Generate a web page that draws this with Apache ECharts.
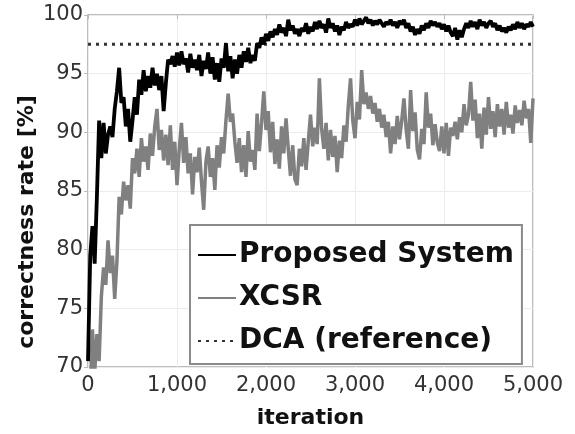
<!DOCTYPE html>
<html>
<head>
<meta charset="utf-8">
<script src="https://cdn.jsdelivr.net/npm/echarts@6/dist/echarts.min.js"></script>
<style>html,body{margin:0;padding:0;background:#fff;}#c{width:575px;height:434px;}</style>
</head>
<body>
<div id="c"></div>
<script>
// iteration step between samples
const step = 25;
const seriesNames = ['Proposed System', 'XCSR', 'DCA (reference)'];
const xTicks = [0, 1000, 2000, 3000, 4000, 5000];
const yTicks = [70, 75, 80, 85, 90, 95, 100];
const dcaValue = 97.5;

const proposed = [
70.5,79.5,82,78.8,84.5,91,87.8,90.8,88.2,89.8,
90.5,89.6,92,93.5,95.5,92.5,93,90.5,92,89.2,
91,93,91.5,94.5,93.2,95.3,93.5,94.8,93.8,95.5,
94,95,93.6,94.8,91.8,94.2,96.2,95.8,96.5,95.6,
96.8,95.7,96.9,95.8,96.3,95.1,96.7,95.5,96.2,95.3,
96.6,94.8,96.1,95.4,96.8,95,96.4,94.5,95.9,94.3,
96.3,95.5,97.6,95.2,96.5,94.6,96.2,95,96.6,95.5,
96.9,96,97.2,95.9,96.6,96.1,97.6,97.2,98.1,97.5,
98.4,97.8,98.6,98.1,98.8,98.3,99.2,98.5,98.9,98.2,
99.6,98.7,99.1,98.4,98.8,98.2,98.9,98.6,99.3,98.4,
99.0,98.6,99.4,98.8,99.5,98.9,99.2,98.5,99.7,98.9,
99.3,98.6,99.1,98.3,99.0,98.7,99.4,98.9,99.2,99.0,
99.6,99.1,99.7,99.2,99.5,99.8,99.3,99.6,99.1,99.5,
99.2,99.6,99.3,99.0,99.4,99.2,99.6,99.1,99.4,98.9,
99.5,99.2,99.6,98.9,99.3,98.6,99.0,98.3,98.8,98.4,
99.1,98.7,99.3,98.9,99.5,99.1,99.4,99.0,99.3,98.8,
99.2,98.6,99.1,98.5,98.2,98.9,97.9,98.7,98.1,98.8,
99.3,98.9,99.5,99.0,99.4,98.8,99.6,99.1,99.4,98.9,
99.3,99.5,99.0,99.3,98.7,99.1,98.6,98.9,98.5,99.0,
98.7,99.2,98.8,99.4,98.9,99.3,98.8,99.2,99.0,99.4,
99.0
];

const xcsr = [
69,68,73.2,69.5,72.8,70.5,76,78.5,77,80.8,
78,79.5,75.8,79,84.5,83,85.8,84.2,85.5,83.5,
87.8,86.5,88.6,86.2,89.5,87.5,88.8,86.8,89.9,88,
90.5,92,88.5,90.2,87.6,89.8,87.2,90.6,86.8,89.2,
85.5,88.5,90.8,87.4,89.6,86.5,88.2,84.7,87.9,86.6,
88.7,85.8,83.4,87.5,88.8,86.2,87.8,85.1,88.9,87.0,
89.6,88.2,91.0,93.3,90.9,91.6,89.2,87.4,89.5,86.6,
88.9,86.2,90.1,87.5,88.5,86.8,91.6,88.4,90.8,93.5,
90.2,91.8,88.3,90.9,87.3,89.4,86.9,90.5,88.2,91.2,
88.6,86.3,88.9,86.0,85.5,88.6,87.1,89.5,86.8,89.2,
91.5,88.8,90.4,89.0,94.6,90.3,88.6,90.8,87.6,90.2,
87.9,89.7,86.6,89.3,87.8,90.6,89.2,92.3,94.6,91.0,
89.5,92.6,91.1,95.3,92.4,93.4,92.0,93.1,91.6,92.5,
90.9,92.0,90.4,91.5,89.6,90.9,88.2,90.5,89.0,91.4,
89.4,91.0,92.9,90.2,88.6,93.6,90.1,91.7,88.5,87.7,
90.3,89.0,93.4,90.4,91.6,88.9,90.7,89.1,88.4,90.5,
88.2,90.8,88.0,90.4,89.7,90.9,89.4,91.3,90.0,92.4,
90.6,91.5,94.3,91.0,92.8,89.5,91.6,88.6,92.1,89.8,
93.0,90.3,91.8,89.6,92.4,90.5,92.0,89.8,92.6,90.4,
91.5,89.9,92.3,90.8,91.9,90.6,92.7,91.2,92.0,89.1,
92.9
];

const toPairs = arr => arr.map((v, i) => [i * step, v]);
const font = '"DejaVu Sans", Verdana, sans-serif';

const chart = echarts.init(document.getElementById('c'), null, {renderer: 'canvas'});
chart.setOption({
  animation: false,
  backgroundColor: '#fff',
  grid: {left: 88, right: 42, top: 15, bottom: 62, show: true, borderColor: '#a8a8a8', borderWidth: 1.5, backgroundColor: 'transparent'},
  xAxis: [{
    type: 'value', min: xTicks[0], max: xTicks[xTicks.length - 1], interval: 1000,
    name: 'iteration', nameLocation: 'middle', nameGap: 40, nameMoveOverlap: false,
    nameTextStyle: {fontFamily: font, fontWeight: 'bold', fontSize: 22, color: '#111'},
    axisLine: {show: false}, axisTick: {show: false},
    axisLabel: {fontFamily: font, fontSize: 21, color: '#333', margin: 8,
      formatter: v => v.toLocaleString('en-US')},
    splitLine: {show: true, lineStyle: {color: '#ececec', width: 1}}
  }, {
    type: 'value', position: 'top', min: xTicks[0], max: xTicks[xTicks.length - 1], interval: 1000,
    axisLine: {show: false}, axisLabel: {show: false}, splitLine: {show: false},
    axisTick: {show: true, inside: true, length: 4, lineStyle: {color: '#bbb'}}
  }],
  yAxis: [{
    type: 'value', min: yTicks[0], max: yTicks[yTicks.length - 1], interval: 5,
    name: 'correctness rate [%]', nameLocation: 'middle', nameGap: 50, nameMoveOverlap: false,
    nameTextStyle: {fontFamily: font, fontWeight: 'bold', fontSize: 22, color: '#111', padding: [0, 62, 0, 0]},
    axisLine: {show: false}, axisTick: {show: false},
    axisLabel: {fontFamily: font, fontSize: 21, color: '#333', margin: 5},
    splitLine: {show: true, lineStyle: {color: '#ececec', width: 1}}
  }, {
    type: 'value', position: 'right', min: yTicks[0], max: yTicks[yTicks.length - 1], interval: 5,
    axisLine: {show: false}, axisLabel: {show: false}, splitLine: {show: false},
    axisTick: {show: true, inside: true, length: 4, lineStyle: {color: '#bbb'}}
  }],
  legend: {
    orient: 'vertical', left: 190, top: 225,
    padding: [16, 8, 9, 7], itemGap: 15, itemWidth: 38, itemHeight: 28,
    backgroundColor: '#fff', borderColor: '#8a8a8a', borderWidth: 2, borderRadius: 0,
    itemStyle: {opacity: 0},
    textStyle: {fontFamily: font, fontWeight: 'bold', fontSize: 28, color: '#111', padding: [0, 0, 0, -2]},
    data: seriesNames
  },
  series: [
    {name: seriesNames[1], type: 'line', data: toPairs(xcsr), symbol: 'none', z: 2,
     lineStyle: {color: '#808080', width: 3.5}, itemStyle: {color: '#808080'}},
    {name: seriesNames[0], type: 'line', data: toPairs(proposed), symbol: 'none', z: 3,
     lineStyle: {color: '#000', width: 3.8}, itemStyle: {color: '#000'}},
    {name: seriesNames[2], type: 'line', data: [[xTicks[0], dcaValue], [xTicks[xTicks.length - 1], dcaValue]], symbol: 'none', z: 1,
     lineStyle: {color: '#333', width: 3, type: [3, 5]}, itemStyle: {color: '#333'}}
  ]
});
</script>
</body>
</html>
